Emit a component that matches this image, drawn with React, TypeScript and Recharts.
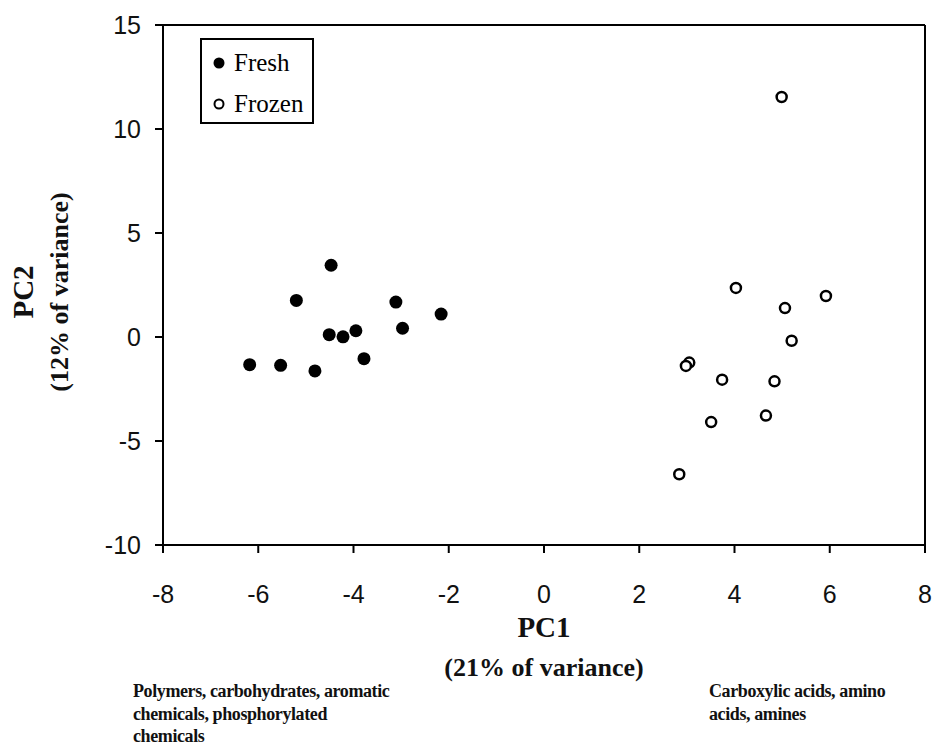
import { Label, ReferenceLine, Scatter, ScatterChart, XAxis, YAxis } from "recharts";

const freshX = [-4.47, -5.2, -3.11, -2.16, -4.51, -4.22, -3.95, -2.97, -3.78, -6.18, -5.53, -4.81];
const freshY = [3.45, 1.76, 1.68, 1.1, 0.11, 0.01, 0.3, 0.42, -1.04, -1.33, -1.36, -1.63];

const frozenX = [4.99, 4.03, 5.92, 5.06, 5.2, 3.05, 2.98, 3.74, 4.84, 4.66, 3.51, 2.84];
const frozenY = [11.54, 2.36, 1.97, 1.39, -0.18, -1.23, -1.39, -2.05, -2.13, -3.78, -4.09, -6.6];

const xTicks = [-8, -6, -4, -2, 0, 2, 4, 6, 8];
const yTicks = [-10, -5, 0, 5, 10, 15];

const fresh = freshX.map((x, i) => ({ x, y: freshY[i] }));
const frozen = frozenX.map((x, i) => ({ x, y: frozenY[i] }));

const serif = "'Liberation Serif', 'Times New Roman', serif";
const sans = "'Liberation Sans', Arial, sans-serif";

const tickStyle = { fill: "#111", fontSize: 25, fontFamily: sans };

const FreshDot = (p: any) => <circle cx={p.cx} cy={p.cy} r={6.5} fill="#000" />;
const FrozenDot = (p: any) => (
  <circle cx={p.cx} cy={p.cy} r={5} fill="#fff" stroke="#000" strokeWidth={2.5} />
);

function LegendBox() {
  const row = { display: "flex", alignItems: "center", height: 41 };
  const text = { fontFamily: serif, fontSize: 25, color: "#000", marginLeft: 8 };
  return (
    <div
      style={{
        position: "absolute",
        left: 200,
        top: 38,
        border: "2px solid #000",
        width: 114,
        height: 86,
        padding: "2px 0 0 10px",
        boxSizing: "border-box",
        background: "#fff",
      }}
    >
      <div style={row}>
        <svg width={14} height={14}>
          <circle cx={7} cy={7} r={5.5} fill="#000" />
        </svg>
        <span style={text}>Fresh</span>
      </div>
      <div style={row}>
        <svg width={14} height={14}>
          <circle cx={7} cy={7} r={4.5} fill="#fff" stroke="#000" strokeWidth={2} />
        </svg>
        <span style={text}>Frozen</span>
      </div>
    </div>
  );
}

const YTitle = () => {
  const cy = 292;
  return (
    <g fontFamily={serif} fontWeight="bold" fill="#111">
      <text x={26} y={cy} fontSize={29} textAnchor="middle" dominantBaseline="middle" transform={`rotate(-90 26 ${cy})`}>
        PC2
      </text>
      <text x={62} y={cy} fontSize={26} textAnchor="middle" dominantBaseline="middle" transform={`rotate(-90 62 ${cy})`}>
        (12% of variance)
      </text>
    </g>
  );
};

const note = {
  position: "absolute" as const,
  fontFamily: serif,
  fontWeight: "bold" as const,
  fontSize: 18,
  lineHeight: "22.5px",
  color: "#111",
  letterSpacing: -0.4,
};

export default function App() {
  return (
    <div style={{ position: "absolute", left: 0, top: 0, width: 934, height: 745, background: "#fff" }}>
      <ScatterChart width={934} height={745} margin={{ top: 25, right: 9, bottom: 160, left: 103 }}>
        <XAxis
          type="number"
          dataKey="x"
          domain={[-8, 8]}
          ticks={xTicks}
          allowDataOverflow
          stroke="#000"
          strokeWidth={2}
          tickSize={8}
          tickMargin={32}
          tick={tickStyle}
          height={40}
        >
          <Label value="PC1" position="bottom" offset={31} style={{ fontFamily: serif, fontWeight: "bold", fontSize: 29, fill: "#111" }} />
          <Label value="(21% of variance)" position="bottom" offset={73} style={{ fontFamily: serif, fontWeight: "bold", fontSize: 26, fill: "#111" }} />
        </XAxis>
        <YAxis
          type="number"
          dataKey="y"
          domain={[-10, 15]}
          ticks={yTicks}
          allowDataOverflow
          stroke="#000"
          strokeWidth={2}
          tickSize={8}
          tickMargin={14}
          tick={tickStyle}
          width={60}
        >
          <Label content={YTitle} />
        </YAxis>
        <ReferenceLine y={15} stroke="#000" strokeWidth={2} />
        <ReferenceLine x={8} stroke="#000" strokeWidth={2} />
        <Scatter name="Fresh" data={fresh} shape={FreshDot} isAnimationActive={false} />
        <Scatter name="Frozen" data={frozen} shape={FrozenDot} isAnimationActive={false} />
      </ScatterChart>
      <LegendBox />
      <div style={{ ...note, left: 133, top: 680 }}>
        Polymers, carbohydrates, aromatic
        <br />
        chemicals, phosphorylated
        <br />
        chemicals
      </div>
      <div style={{ ...note, left: 709, top: 680 }}>
        Carboxylic acids, amino
        <br />
        acids, amines
      </div>
    </div>
  );
}
